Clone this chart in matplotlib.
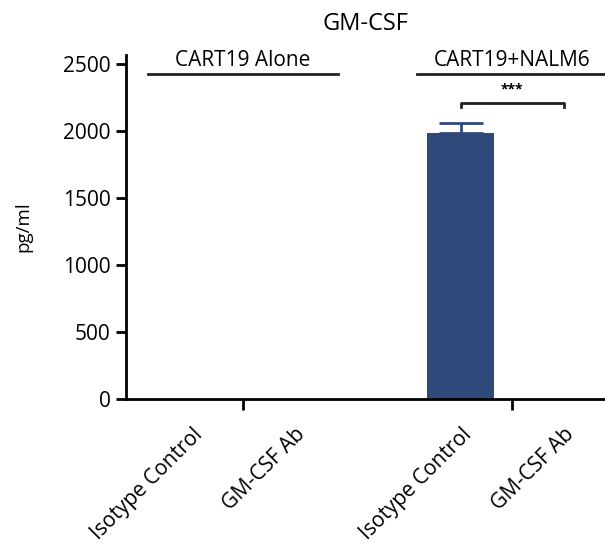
import numpy as np
import matplotlib
matplotlib.use('Agg')
import matplotlib.pyplot as plt

plt.rcParams['font.family'] = ['Open Sans', 'DejaVu Sans']

# data
categories = ['Isotype Control', 'GM-CSF Ab', 'Isotype Control', 'GM-CSF Ab']
groups = ['CART19 Alone', 'CART19+NALM6']
means = [0, 0, 1985, 0]
sems = [0, 0, 75, 0]
y_ticks = [0, 500, 1000, 1500, 2000, 2500]
sig_label = '***'

bar_color = '#2f4a7a'

# category positions: two per group, wider gap between groups
x = np.array([0, 1, 2.61, 3.61])
group_centers = [(x[0] + x[1]) / 2, (x[2] + x[3]) / 2]

fig = plt.figure(figsize=(6.05, 5.56), dpi=100, facecolor='white')
ax = fig.add_axes([0.2083, 0.2824, 0.7917, 0.6187])

ax.bar(x, means, width=0.65, color=bar_color, zorder=2)
for xi, m, e in zip(x, means, sems):
    if e > 0:
        ax.errorbar(xi, m, yerr=[[0], [e]], color=bar_color, capsize=16,
                    capthick=2, elinewidth=2, zorder=1)

ax.set_xlim(-0.636, 4.01)
ax.set_ylim(0, 2567)
ax.set_yticks(y_ticks)
ax.set_yticklabels([str(v) for v in y_ticks], fontsize=15)
ax.set_ylabel('pg/ml', fontsize=13.5, labelpad=22)

ax.set_xticks(x)
ax.set_xticklabels(categories, rotation=45, ha='right',
                   rotation_mode='anchor', fontsize=15)
ax.tick_params(axis='x', which='major', length=0, pad=18)
ax.set_xticks(group_centers, minor=True)
ax.tick_params(axis='x', which='minor', length=8, width=2)
ax.tick_params(axis='y', length=7, width=2, pad=4)

for s in ['top', 'right']:
    ax.spines[s].set_visible(False)
for s in ['left', 'bottom']:
    ax.spines[s].set_linewidth(2)

ax.set_title('GM-CSF', fontsize=17, pad=18)

# group headers
for gc, name in zip(group_centers, groups):
    ax.plot([gc - 0.92, gc + 0.92], [2425, 2425], color='#222222', lw=2,
            clip_on=False)
    ax.text(gc, 2445, name, ha='center', va='bottom', fontsize=15)

# significance bracket
y_br = 2209
ax.plot([x[2], x[2], x[3], x[3]], [y_br - 30, y_br, y_br, y_br - 30],
        color='#222222', lw=2)
ax.text((x[2] + x[3]) / 2, y_br + 45, sig_label, ha='center', va='bottom',
        fontsize=10, fontweight='bold')

fig.savefig('out.png', dpi=100)
